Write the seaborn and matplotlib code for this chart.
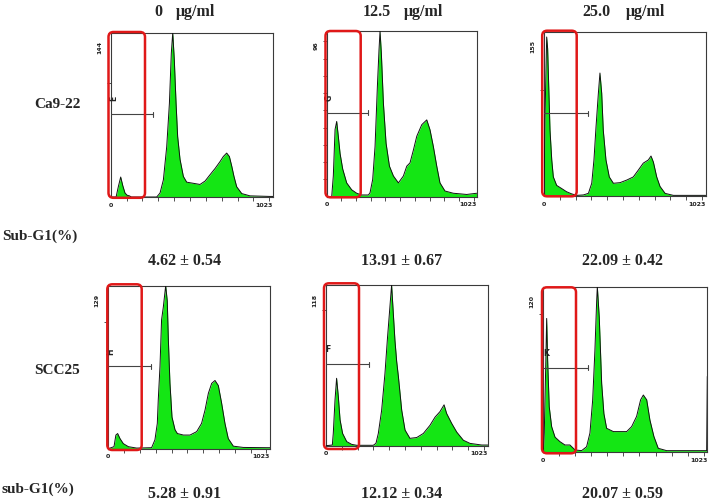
import numpy as np
import pandas as pd
import matplotlib
matplotlib.use("Agg")
import matplotlib.pyplot as plt
import seaborn as sns
from matplotlib.patches import FancyBboxPatch
from matplotlib.transforms import IdentityTransform

# ---------------- data ----------------
doses = ["0", "12.5", "25.0"]
dose_unit = "\u03bcg/ml"
cell_lines = ["Ca9-22", "SCC25"]
row_value_labels = ["Sub-G1(%)", "sub-G1(%)"]
subg1_mean = [[4.62, 13.91, 22.09], [5.28, 12.12, 20.07]]
subg1_sd = [[0.54, 0.67, 0.42], [0.91, 0.34, 0.59]]
ymax_labels = [[144, 96, 155], [129, 118, 120]]
gate_letters = [["E", "G", ""], ["H", "F", "K"]]
gate_level = [[72.5, 48.6, 78.0], [65.4, 59.8, 61.3]]
gate_end = [[268, 283, 276], [270, 274, 281]]

# DNA-content histograms: channel (0-1023) and cell counts
ca922_0_ch = [0, 34, 48, 63, 76, 90, 104, 118, 130, 290, 311, 332, 353, 370, 382, 391,
              401, 412, 422, 437, 458, 479, 521, 563, 595, 626, 658, 689, 710, 731, 748,
              763, 777, 794, 826, 878, 1004, 1023]
ca922_0_cnt = [0, 0, 9, 17.5, 10, 3.5, 1.5, 1, 0, 0, 3.5, 15, 44, 82, 126, 144,
               120, 82, 53, 33, 18, 13, 12, 11, 14, 19.5, 25, 31, 35.5, 38.5, 35.5,
               27, 18, 9, 3, 1, 0.5, 0.5]
ca922_12_ch = [0, 34, 45, 57, 68, 79, 91, 109, 136, 170, 204, 238, 284, 295, 313, 329,
               345, 356, 363, 372, 386, 404, 427, 454, 488, 522, 545, 567, 590, 613,
               647, 681, 703, 726, 749, 771, 805, 862, 953, 1021]
ca922_12_cnt = [0, 0, 12, 39, 43.6, 35, 25, 16, 8, 4, 2, 1, 1, 2.3, 10, 29,
                64, 85, 96, 83, 54, 31, 17.7, 12, 8, 12, 17.7, 19.6, 27, 35,
                41.7, 44.5, 38.8, 29, 17.7, 8, 3.3, 2, 1.3, 2]
ca922_25_ch = [0, 6, 17, 23, 30, 38, 49, 59, 80, 112, 143, 175, 207, 249, 281, 302,
               316, 329, 344, 354, 365, 375, 392, 413, 439, 481, 523, 565, 597, 628,
               660, 677, 692, 713, 734, 766, 818, 1008, 1023]
ca922_25_cnt = [0, 72, 150, 139, 103, 62, 34, 18, 10, 7, 4, 2, 0.6, 1, 2.5, 12,
                34, 65, 97, 116, 97, 62, 34, 18, 12, 12.6, 15, 18, 24.5, 31,
                34, 37.7, 32, 18, 9, 2.5, 0.6, 0.6, 0.6]
scc25_0_ch = [0, 36, 48, 59, 74, 95, 127, 179, 274, 295, 310, 316, 327, 337, 348, 363,
              373, 380, 390, 403, 422, 437, 475, 517, 559, 590, 612, 633, 654, 675,
              696, 717, 738, 759, 791, 854, 1002, 1023]
scc25_0_cnt = [0, 1.6, 10.8, 12, 8, 4, 1.6, 0.5, 0.8, 7, 20, 38.5, 65, 102, 112, 129,
               117, 86, 52, 25, 15, 12, 10.8, 10.8, 13.5, 20, 30.6, 43.8, 51.7, 54,
               50, 36, 20, 8, 2, 1, 0.8, 0.8]
scc25_12_ch = [0, 40, 46, 57, 67, 78, 89, 105, 131, 162, 194, 299, 316, 331, 352, 373,
               388, 401, 415, 436, 447, 458, 479, 500, 531, 574, 616, 658, 690, 721,
               747, 763, 795, 827, 869, 911, 985, 1023]
scc25_12_cnt = [0, 0.5, 9, 33.5, 49.5, 36, 19, 9, 3, 1, 0.3, 0.3, 1.7, 9, 26, 53,
                77.6, 97, 118, 77.6, 62, 50.7, 26, 11.5, 5.4, 6, 9, 15, 21, 25,
                30, 23.7, 16.4, 10, 4, 1.7, 0.5, 0.5]
scc25_25_ch = [0, 6, 15, 21, 27, 37, 52, 73, 104, 135, 166, 198, 239, 270, 291, 308,
               322, 333, 337, 349, 364, 378, 395, 437, 478, 520, 551, 582, 607, 624,
               645, 665, 690, 717, 769, 998, 1019, 1023]
scc25_25_cnt = [0, 14, 62, 97, 67, 33, 18.6, 11, 7.7, 5.3, 5.3, 1.7, 1.2, 4, 14, 38,
                74, 110, 120, 98, 50, 28, 17.4, 15, 15, 15, 18.6, 26, 38, 41.5,
                38, 23.4, 11.4, 2.9, 1.2, 1.2, 1.2, 55]

hist_ch = [[ca922_0_ch, ca922_12_ch, ca922_25_ch], [scc25_0_ch, scc25_12_ch, scc25_25_ch]]
hist_cnt = [[ca922_0_cnt, ca922_12_cnt, ca922_25_cnt], [scc25_0_cnt, scc25_12_cnt, scc25_25_cnt]]

# ---------------- layout (pixel geometry of the 709x501 canvas) ----------------
W, H = 709, 501
panel_box = [[(110.7, 32.7, 273.0, 197.0), (326.7, 31.0, 477.0, 196.7), (544.0, 31.7, 705.7, 196.0)],
             [(108.3, 285.7, 270.0, 448.7), (326.0, 285.0, 487.7, 445.7), (543.3, 286.7, 707.3, 452.3)]]
red_box = [[(108.5, 32.0, 145.0, 197.8), (325.5, 31.0, 360.7, 197.3), (542.2, 30.7, 576.7, 196.3)],
           [(107.3, 284.3, 141.7, 450.0), (324.0, 283.3, 359.0, 449.0), (542.0, 287.3, 576.0, 453.3)]]
letter_pos = [[(113.3, 98.3), (329.3, 98.3), None], [(110.7, 351.7), (328.3, 350.0), (546.0, 353.3)]]
letter_rot = [[90, 90, 0], [90, 0, 0]]

sns.set_theme(style="white")
plt.rcParams["font.family"] = ["DejaVu Sans"]
serif = ["Liberation Serif", "DejaVu Serif"]
GREEN = "#14E614"
RED = "#E01818"

fig = plt.figure(figsize=(W / 100, H / 100), dpi=100)
fig.patch.set_facecolor("white")

def fig_text(x, y, s, **kw):
    fig.text(x / W, 1 - y / H, s, **kw)

for r in range(2):
    for c in range(3):
        L, T, R, B = panel_box[r][c]
        ax = fig.add_axes([L / W, 1 - B / H, (R - L) / W, (B - T) / H])
        ax.set_facecolor("white")
        ymax = ymax_labels[r][c]
        df = pd.DataFrame({"channel": hist_ch[r][c], "count": hist_cnt[r][c]})
        ax.fill_between(df["channel"], df["count"], 0, color=GREEN, lw=0, zorder=2)
        sns.lineplot(data=df, x="channel", y="count", ax=ax, color="#111111", lw=0.7,
                     sort=False, estimator=None, zorder=3)
        ax.set_xlim(0, 1023)
        ax.set_ylim(0, ymax)
        ax.set_xlabel("")
        ax.set_ylabel("")
        for sp in ax.spines.values():
            sp.set_color("#3a3a3a")
            sp.set_linewidth(0.8)
            sp.set_visible(True)
        ax.set_xticks(np.arange(100, 1001, 100))
        ax.set_xticklabels([])
        step = 10 if ymax < 100 else 100
        ax.set_yticks(np.arange(step, ymax, step))
        ax.set_yticklabels([])
        ax.tick_params(axis="both", direction="out", length=3, width=0.6, color="#333333",
                       bottom=True, left=True)
        # gate marker
        gl = gate_level[r][c]
        ge = gate_end[r][c]
        ax.plot([0, ge], [gl, gl], color="#444444", lw=0.8, zorder=4, clip_on=False)
        ax.plot([ge, ge], [gl - ymax * 0.015, gl + ymax * 0.015], color="#444444", lw=0.8, zorder=4)
        # axis labels in small bold type
        ax.text(0, -0.035, "0", transform=ax.transAxes, ha="center", va="top",
                fontsize=4.5, fontweight="bold", color="#222222")
        ax.text(1, -0.035, "1023", transform=ax.transAxes, ha="right", va="top",
                fontsize=4.5, fontweight="bold", color="#222222")
        fig_text(L - 11, T + 15, str(ymax), ha="center", va="center", rotation=90,
                 fontsize=4.5, fontweight="bold", color="#222222")
        if letter_pos[r][c] is not None:
            lx, ly = letter_pos[r][c]
            fig_text(lx, ly, gate_letters[r][c], ha="center", va="center",
                     rotation=letter_rot[r][c], fontsize=5.5, fontweight="bold", color="#222222")
        # red highlight box
        x0, y0, x1, y1 = red_box[r][c]
        patch = FancyBboxPatch((x0, H - y1), x1 - x0, y1 - y0,
                               boxstyle="round,pad=0,rounding_size=5",
                               transform=IdentityTransform(), fill=False,
                               edgecolor=RED, lw=1.8, zorder=10)
        fig.patches.append(patch)

# column headers
num_x = [158, 377, 596]
unit_x = [196, 424, 646]
for c in range(3):
    fig_text(num_x[c], 12, doses[c], ha="center", va="center", fontsize=11.5,
             fontweight="bold", family=serif)
    fig_text(unit_x[c], 12, dose_unit, ha="center", va="center", fontsize=11.5,
             fontweight="bold", family=serif)

# row labels
fig_text(57, 105, cell_lines[0], ha="center", va="center", fontsize=11, fontweight="bold", family=serif)
fig_text(57, 370, cell_lines[1], ha="center", va="center", fontsize=11, fontweight="bold", family=serif)
fig_text(2, 236, row_value_labels[0], ha="left", va="center", fontsize=11, fontweight="bold", family=serif)
fig_text(2, 489, row_value_labels[1], ha="left", va="center", fontsize=11, fontweight="bold", family=serif)

val_x = [185, 402, 622]
val_y = [261, 494]
for r in range(2):
    for c in range(3):
        fig_text(val_x[c], val_y[r], f"{subg1_mean[r][c]:.2f} \u00b1 {subg1_sd[r][c]:.2f}",
                 ha="center", va="center", fontsize=11.5, fontweight="bold", family=serif)

fig.savefig("out.png", dpi=100, facecolor="white")
